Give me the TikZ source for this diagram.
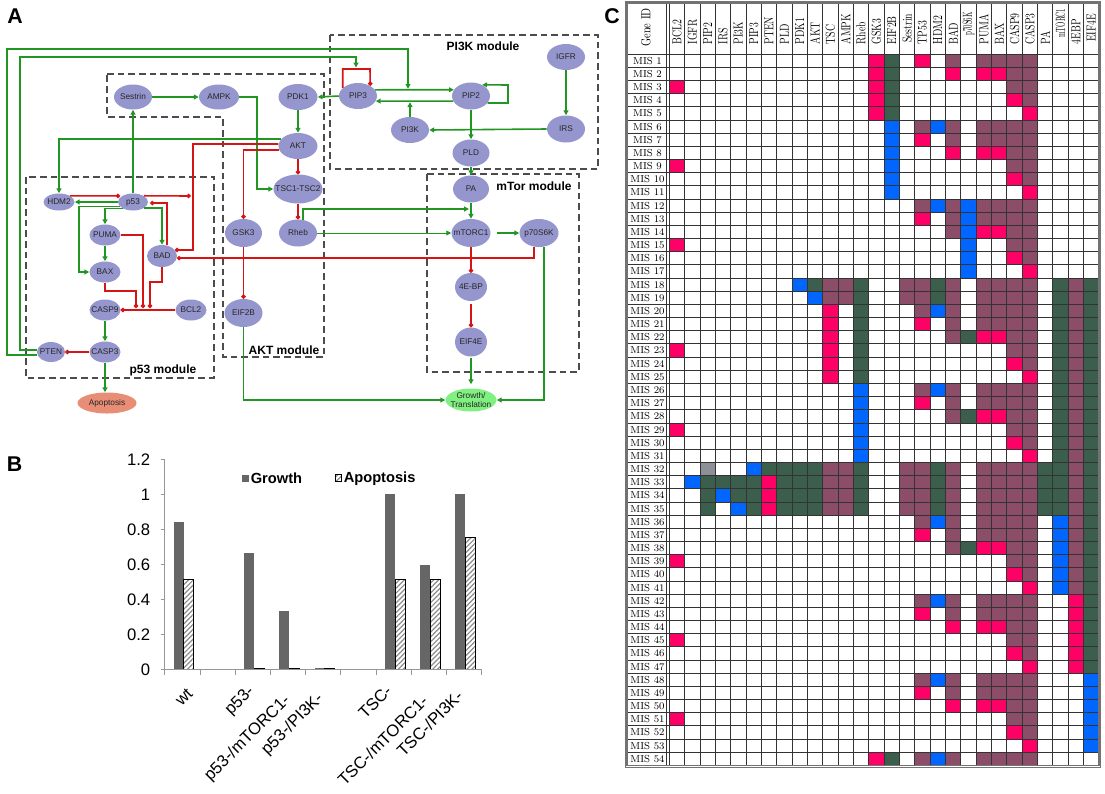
\documentclass[tikz,border=0pt]{standalone}
\usepackage{fontspec}
\setsansfont{Liberation Sans}
\usetikzlibrary{arrows.meta,shapes.geometric,patterns.meta}
\definecolor{ndfill}{RGB}{150,150,206}
\definecolor{gline}{RGB}{34,150,34}
\definecolor{rline}{RGB}{214,20,20}
\definecolor{cR}{RGB}{255,0,102}
\definecolor{cG}{RGB}{60,94,76}
\definecolor{cB}{RGB}{0,102,255}
\definecolor{cM}{RGB}{140,77,104}
\definecolor{cY}{RGB}{142,144,152}
\definecolor{apopfill}{RGB}{232,142,118}
\definecolor{growfill}{RGB}{128,240,128}
\definecolor{bargray}{RGB}{102,102,102}
\definecolor{axisgray}{RGB}{150,150,150}
\newcommand\misrow[2]{\foreach \c/\k in {#2}{\fill[fill=c\k] ({669.3+15.34*(\c-1)},{54.2+13.17*(#1-1)}) rectangle ++(15.34,13.17);}}
\begin{document}
\begin{tikzpicture}[x=0.75pt,y=-0.75pt,
  nd/.style 2 args={ellipse, fill=ndfill, draw=none, minimum width=#1*0.75pt, minimum height=#2*0.75pt, inner sep=0pt},
  every label/.style={font=\sffamily\fontsize{6.2}{7.2}\selectfont, inner sep=0pt, text=black!85},
  ga/.style={draw=gline, line width=1.2pt, -{Triangle[length=3.6pt,width=3.6pt]}},
  ri/.style={draw=rline, line width=1.2pt, -{Circle[length=3.2pt]}},
  modbox/.style={draw=black!70, line width=1pt, dash pattern=on 5pt off 3pt},
  modlbl/.style={font=\sffamily\bfseries\fontsize{9}{10}\selectfont, inner sep=0pt},
  panel/.style={font=\sffamily\bfseries\fontsize{16}{18}\selectfont, inner sep=0pt},
  gridline/.style={draw=black!80, line width=0.7pt},
  hdr/.style={rotate=90, anchor=west, inner sep=0pt, font=\fontsize{9.8}{10}\selectfont},
  rowlbl/.style={inner sep=0pt, font=\fontsize{7.6}{8}\selectfont},
  axisline/.style={draw=axisgray, line width=0.8pt},
  ticklbl/.style={anchor=east, inner sep=0pt, font=\sffamily\fontsize{12.5}{14}\selectfont},
  catlbl/.style={rotate=45, anchor=east, inner sep=0pt, font=\sffamily\fontsize{12.5}{14}\selectfont},
  leg/.style={anchor=west, inner sep=0pt, font=\sffamily\bfseries\fontsize{11}{12}\selectfont},
  apopbar/.style={draw=black, line width=0.6pt, preaction={fill=white}, pattern={Lines[angle=45,distance=2.6pt,line width=0.9pt]}, pattern color=black!45}
]
\useasboundingbox (0,0) rectangle (1105,793);
\fill[white] (0,0) rectangle (1105,793);

% ---------------- Panel A ----------------
\node[panel] (pA) at (15,16) {A};
\draw[modbox] (107,74) -- (324,74) -- (324,357) -- (223,357) -- (223,117) -- (107,117) -- cycle;
\draw[modbox] (330,35) rectangle (598,169);
\draw[modbox] (427,174) rectangle (579,372);
\draw[modbox] (26,177) rectangle (214,378);
\node[modlbl] (mPI3K) at (483,46) {PI3K module};
\node[modlbl] (mmTor) at (534,186) {mTor module};
\node[modlbl] (mAKT) at (284,350) {AKT module};
\node[modlbl] (mp53) at (163,370) {p53 module};

\node[nd={38}{25}, label=center:Sestrin] (sestrin) at (133,97) {};
\node[nd={40}{25}, label=center:AMPK] (ampk) at (219,97) {};
\node[nd={39}{26}, label=center:PDK1] (pdk1) at (298,97) {};
\node[nd={39}{26}, label=center:AKT] (akt) at (298,146) {};
\node[nd={49}{29}, label=center:TSC1-TSC2] (tsc) at (298,189) {};
\node[nd={37}{28}, label=center:GSK3] (gsk3) at (243.5,233) {};
\node[nd={38}{27}, label=center:Rheb] (rheb) at (298,233) {};
\node[nd={38}{28}, label=center:EIF2B] (eif2b) at (243.5,313) {};
\node[nd={31}{17}, label=center:HDM2] (hdm2) at (59,202) {};
\node[nd={30}{17}, label=center:p53] (p53) at (133,202) {};
\node[nd={31}{21}, label=center:PUMA] (puma) at (105,235) {};
\node[nd={30}{22}, label=center:BAD] (bad) at (162,256) {};
\node[nd={31}{21}, label=center:BAX] (bax) at (105,272) {};
\node[nd={31}{21}, label=center:CASP9] (casp9) at (105,310) {};
\node[nd={31}{21}, label=center:BCL2] (bcl2) at (191,310) {};
\node[nd={31}{21}, label=center:CASP3] (casp3) at (105,352) {};
\node[nd={28}{20}, label=center:PTEN] (pten) at (51,352) {};
\node[nd={59}{21}, fill=apopfill, label=center:Apoptosis] (apop) at (107,403) {};
\node[nd={38}{26}, label=center:PIP3] (pip3) at (358,96) {};
\node[nd={38}{27}, label=center:PIP2] (pip2) at (471,96) {};
\node[nd={38}{26}, label=center:IGFR] (igfr) at (566,57) {};
\node[nd={38}{27}, label=center:IRS] (irs) at (566,129) {};
\node[nd={38}{26}, label=center:PI3K] (pi3k) at (410,130) {};
\node[nd={37}{27}, label=center:PLD] (pld) at (471,153) {};
\node[nd={36}{27}, label=center:PA] (pa) at (471,189) {};
\node[nd={39}{28}, label=center:mTORC1] (mtorc1) at (471,233) {};
\node[nd={39}{28}, label=center:p70S6K] (p70) at (539,233) {};
\node[nd={32}{28}, label=center:4E-BP] (ebp) at (471,287) {};
\node[nd={32}{29}, label=center:EIF4E] (eif4e) at (471,342) {};
\node[nd={51}{23}, fill=growfill, label={[align=center]center:Growth/\\Translation}] (growth) at (471,400) {};

\coordinate (j1) at (408,88.8);
\coordinate (j2) at (356,67.5);
\coordinate (j3) at (192,196);
\coordinate (j4) at (469,209);
\coordinate (j5) at (410,102.2);
\coordinate (j6) at (143,308);
\coordinate (j7) at (136,308);
\coordinate (j8) at (150,308);

\draw[ga] (pten.193) -| (7,49) -| (j1);
\draw[ga] (pten.172) -| (20,57) -| (j2);
\draw[ri] (pip3.152) |- (370,69) -- (pip3.40);
\draw[ga] (sestrin) -- (ampk);
\draw[ga] (ampk.east) -- ++(18,0) |- (tsc.west);
\draw[ga] (p53) -- (sestrin);
\draw[ga] (pdk1) -- (akt);
\draw[ga] (pip3.west) -- (pdk1.east);
\draw[ga] (akt.157) -| (hdm2.north);
\draw[ri] (akt.174) -| (193,250) -- (bad.25);
\draw[ri, shorten >=1pt] (p53.30) -- (j3);
\draw[ri] (akt.192) -| (gsk3.north);
\draw[ri] (akt) -- (tsc);
\draw[ri] (tsc) -- (rheb);
\draw[ga] (rheb.70) |- (j4);
\draw[ga, line width=0.7pt] (rheb.east) -- (mtorc1.west);
\draw[ga] (pa) -- (mtorc1);
\draw[ga] (pld) -- (pa);
\draw[ga] (pip2) -- (pld);
\draw[ga] (pip3.20) -- (pip2.160);
\draw[ga] (pip2.196) -- (pip3.-16);
\draw[ga] (pi3k.north) -- (j5);
\draw[ga] (pip2.-23) -| (508,85) -- (pip2.45);
\draw[ga] (igfr) -- (irs);
\draw[ga] (irs.west) -- (pi3k.east);
\draw[ga, line width=1.5pt] ([xshift=5pt]mtorc1.east) -- (p70.west);
\draw[ri] (mtorc1) -- (ebp);
\draw[ri, shorten <=2pt] (ebp) -- (eif4e);
\draw[ga, shorten <=1pt, shorten >=3pt] (eif4e) -- (growth);
\draw[ga] (p70.-70) |- (growth.east);
\draw[ri] (p70.-110) |- (bad.-8);
\draw[ga] (eif2b.south) |- (growth.west);
\draw[ri] (gsk3) -- (eif2b);
\draw[ri, shorten >=1.5pt] (hdm2.29) -- (p53.151);
\draw[ga] (p53.west) -- (hdm2.east);
\draw[ga] (p53.198) -| (79,272) -- (bax.west);
\draw[ga] (p53.212) -| (puma.north);
\draw[ga] (p53.-30) -| (bad.north);
\draw[ri, shorten >=1.5pt] (bad.65) |- (p53.-4);
\draw[ga] (puma) -- (bax);
\draw[ri] (puma.east) -| (j6);
\draw[ri] (bax.south) |- (136,291) -- (j7);
\draw[ri] (bad.south) |- (150,282) -- (j8);
\draw[ri] (bcl2.west) -- (casp9.east);
\draw[ga] (casp9) -- (casp3);
\draw[ri] (casp3) -- (pten);
\draw[ga] (casp3.south) -- (casp3.south |- apop.north);

% ---------------- Panel B ----------------
\node[panel] (pB) at (14.5,464) {B};
\foreach \k/\g/\a in {1/0.84/0.516, 3/0.667/0.005, 4/0.335/0.005, 5/0.005/0.005, 7/1/0.516, 8/0.596/0.516, 9/1/0.754}{
  \fill[bargray] ({166.1+35.2*(\k-0.5)-10},669.3) rectangle ({166.1+35.2*(\k-0.5)},{669.3-175*\g});
  \draw[apopbar] ({166.1+35.2*(\k-0.5)},669.3) rectangle ({166.1+35.2*(\k-0.5)+10},{669.3-175*\a});
}
\draw[axisline] (164.9,459.3) -- (164.9,669.3) -- (481.7,669.3);
\foreach \v/\t [count=\i] in {0/0, 0.2/0.2, 0.4/0.4, 0.6/0.6, 0.8/0.8, 1/1, 1.2/1.2}{
  \draw[axisline] (160.5,{669.3-175*\v}) -- (164.9,{669.3-175*\v});
  \node[ticklbl] (yt\i) at (150.5,{669.3-175*\v}) {\t};
}
\foreach \i in {0,...,9}{
  \draw[axisline] ({164.9+35.2*\i},669.3) -- ++(0,6);
}
\fill[bargray] (241.7,474.5) rectangle (248.5,481.5);
\node[leg] (lg1) at (250.5,478.5) {Growth};
\draw[apopbar] (335,474.5) rectangle (341.5,481.5);
\node[leg] (lg2) at (343.5,478.5) {Apoptosis};
\node[catlbl] (cl1) at (190,691) {wt};
\node[catlbl] (cl3) at (252,689) {p53-};
\node[catlbl] (cl4) at (288,698) {p53-/mTORC1-};
\node[catlbl] (cl5) at (321,696) {p53-/PI3K-};
\node[catlbl] (cl7) at (389,688) {TSC-};
\node[catlbl] (cl8) at (425,698) {TSC-/mTORC1-};
\node[catlbl] (cl9) at (460,693) {TSC-/PI3K-};

% ---------------- Panel C ----------------
\node[panel] (pC) at (612,16) {C};
\misrow{1}{14/R,15/G,17/R,19/M,21/M,22/M,23/M,24/M}
\misrow{2}{14/R,15/G,19/R,21/R,22/R,23/M,24/M}
\misrow{3}{1/R,14/R,15/G,23/M,24/M}
\misrow{4}{14/R,15/G,23/R,24/M}
\misrow{5}{14/R,15/G,24/R}
\misrow{6}{15/B,17/M,18/B,19/M,21/M,22/M,23/M,24/M}
\misrow{7}{15/B,17/R,19/M,21/M,22/M,23/M,24/M}
\misrow{8}{15/B,19/R,21/R,22/R,23/M,24/M}
\misrow{9}{1/R,15/B,23/M,24/M}
\misrow{10}{15/B,23/R,24/M}
\misrow{11}{15/B,24/R}
\misrow{12}{17/M,18/B,19/M,20/B,21/M,22/M,23/M,24/M}
\misrow{13}{17/R,19/M,20/B,21/M,22/M,23/M,24/M}
\misrow{14}{19/M,20/B,21/R,22/R,23/M,24/M}
\misrow{15}{1/R,20/B,23/M,24/M}
\misrow{16}{20/B,23/R,24/M}
\misrow{17}{20/B,24/R}
\misrow{18}{9/B,10/G,11/M,12/M,13/G,16/M,17/M,18/G,19/M,21/M,22/M,23/M,24/M,26/G,27/M,28/G}
\misrow{19}{10/B,11/M,12/M,13/G,16/M,17/M,18/G,19/M,21/M,22/M,23/M,24/M,26/G,27/M,28/G}
\misrow{20}{11/R,13/G,17/M,18/B,19/M,21/M,22/M,23/M,24/M,26/G,27/M,28/G}
\misrow{21}{11/R,13/G,17/R,19/M,21/M,22/M,23/M,24/M,26/G,27/M,28/G}
\misrow{22}{11/R,13/G,19/M,20/G,21/R,22/R,23/M,24/M,26/G,27/M,28/G}
\misrow{23}{1/R,11/R,13/G,23/M,24/M,26/G,27/M,28/G}
\misrow{24}{11/R,13/G,23/R,24/M,26/G,27/M,28/G}
\misrow{25}{11/R,13/G,24/R,26/G,27/M,28/G}
\misrow{26}{13/B,17/M,18/B,19/M,21/M,22/M,23/M,24/M,26/G,27/M,28/G}
\misrow{27}{13/B,17/R,19/M,21/M,22/M,23/M,24/M,26/G,27/M,28/G}
\misrow{28}{13/B,19/M,20/G,21/R,22/R,23/M,24/M,26/G,27/M,28/G}
\misrow{29}{1/R,13/B,23/M,24/M,26/G,27/M,28/G}
\misrow{30}{13/B,23/R,24/M,26/G,27/M,28/G}
\misrow{31}{13/B,24/R,26/G,27/M,28/G}
\misrow{32}{3/Y,6/B,7/G,8/G,9/G,10/G,11/M,12/M,13/G,16/M,17/M,18/G,19/M,21/M,22/M,23/M,24/M,25/G,26/G,27/M,28/G}
\misrow{33}{2/B,3/G,4/G,5/G,6/G,7/R,8/G,9/G,10/G,11/M,12/M,13/G,16/M,17/M,18/G,19/M,21/M,22/M,23/M,24/M,25/G,26/G,27/M,28/G}
\misrow{34}{3/G,4/B,5/G,6/G,7/R,8/G,9/G,10/G,11/M,12/M,13/G,16/M,17/M,18/G,19/M,21/M,22/M,23/M,24/M,25/G,26/G,27/M,28/G}
\misrow{35}{3/G,5/B,6/G,7/R,8/G,9/G,10/G,11/M,12/M,13/G,16/M,17/M,18/G,19/M,21/M,22/M,23/M,24/M,25/G,26/G,27/M,28/G}
\misrow{36}{17/M,18/B,19/M,21/M,22/M,23/M,24/M,26/B,27/M,28/G}
\misrow{37}{17/R,19/M,21/M,22/M,23/M,24/M,26/B,27/M,28/G}
\misrow{38}{19/M,20/G,21/R,22/R,23/M,24/M,26/B,27/M,28/G}
\misrow{39}{1/R,23/M,24/M,26/B,27/M,28/G}
\misrow{40}{23/R,24/M,26/B,27/M,28/G}
\misrow{41}{24/R,26/B,27/M,28/G}
\misrow{42}{17/M,18/B,19/M,21/M,22/M,23/M,24/M,27/R,28/G}
\misrow{43}{17/R,19/M,21/M,22/M,23/M,24/M,27/R,28/G}
\misrow{44}{19/R,21/R,22/R,23/M,24/M,27/R,28/G}
\misrow{45}{1/R,23/M,24/M,27/R,28/G}
\misrow{46}{23/R,24/M,27/R,28/G}
\misrow{47}{24/R,27/R,28/G}
\misrow{48}{17/M,18/B,19/M,21/M,22/M,23/M,24/M,28/B}
\misrow{49}{17/R,19/M,21/M,22/M,23/M,24/M,28/B}
\misrow{50}{19/R,21/R,22/R,23/M,24/M,28/B}
\misrow{51}{1/R,23/M,24/M,28/B}
\misrow{52}{23/R,24/M,28/B}
\misrow{53}{24/R,28/B}
\misrow{54}{14/R,15/G,17/M,18/B,19/M,21/M,22/M,23/M,24/M}

\foreach \i in {0,...,28}{
  \draw[gridline] ({669.3+15.34*\i},3) -- ({669.3+15.34*\i},765.4);
}
\foreach \j in {0,...,54}{
  \draw[gridline] (627,{54.2+13.17*\j}) -- (1099,{54.2+13.17*\j});
}
\draw[gridline] (666.8,3) -- (666.8,765.4);
\draw[draw=black!55, line width=1.1pt] (627,3) rectangle (1099,765.4);
\draw[draw=black!55, line width=0.6pt] (625.5,1.5) rectangle (1100.5,766.9);

\node[hdr, anchor=center] (gid) at (646,27.5) {\scalebox{0.8}[1]{Gene ID}};
\foreach \n/\sc/\yy [count=\i] in {BCL2/0.74/44.5, IGFR/0.74/44.5, PIP2/0.74/44.5, IRS/0.74/44.5, PI3K/0.74/44.5, PIP3/0.74/44.5, PTEN/0.74/44.5, PLD/0.74/44.5, PDK1/0.74/44.5, AKT/0.74/44.5, TSC/0.74/44.5, AMPK/0.74/44.5, Rheb/0.74/44.5, GSK3/0.74/44.5, EIF2B/0.74/44.5, Sestrin/0.74/43, TP53/0.74/44.5, HDM2/0.74/44.5, BAD/0.74/44.5, p70S6K/0.53/36, PUMA/0.74/44.5, BAX/0.74/44.5, CASP9/0.74/44.5, CASP3/0.74/44.5, PA/0.74/44.5, mTORC1/0.52/38, 4EBP/0.74/44.5, EIF4E/0.74/42}{
  \node[hdr] (h\i) at ({669.3+15.34*(\i-0.5)},\yy) {\scalebox{\sc}[1]{\n}};
}
\foreach \j in {1,...,54}{
  \node[rowlbl] (mis\j) at (647.5,{54.2+13.17*(\j-0.5)}) {MIS \j};
}
\end{tikzpicture}
\end{document}
